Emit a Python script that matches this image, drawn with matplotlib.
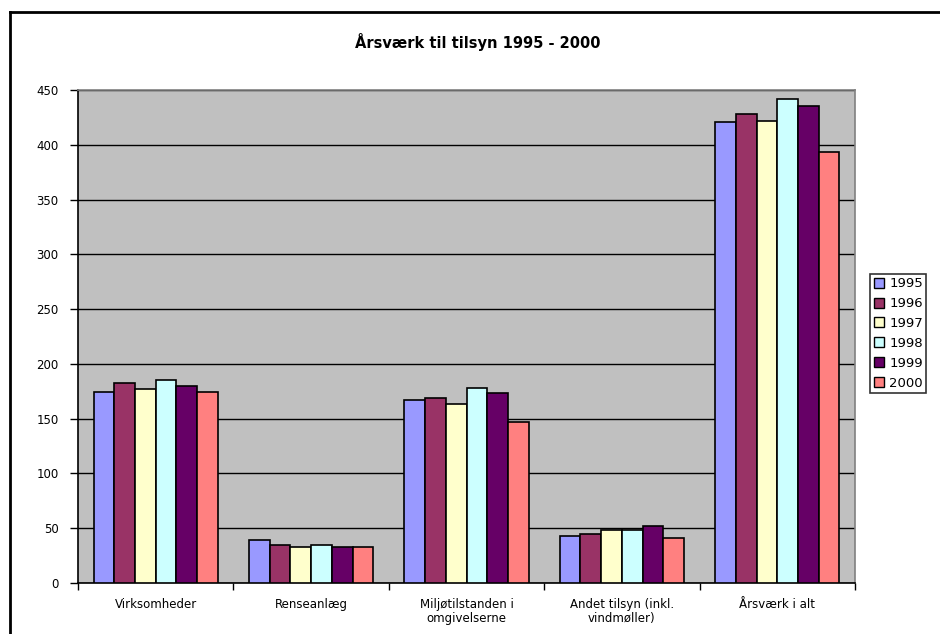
import numpy as np
import matplotlib.pyplot as plt
from matplotlib.lines import Line2D

# --- data ---
categories = ["Virksomheder", "Renseanlæg", "Miljøtilstanden i\nomgivelserne",
              "Andet tilsyn (inkl.\nvindmøller)", "Årsværk i alt"]
years = ["1995", "1996", "1997", "1998", "1999", "2000"]
v1995 = [174, 39, 167, 43, 421]
v1996 = [183, 35, 169, 45, 428]
v1997 = [177, 33, 163, 48, 422]
v1998 = [185, 35, 178, 48, 442]
v1999 = [180, 33, 173, 52, 435]
v2000 = [174, 33, 147, 41, 393]
series = [v1995, v1996, v1997, v1998, v1999, v2000]
colors = ["#9999FF", "#993366", "#FFFFCC", "#CCFFFF", "#660066", "#FF8080"]

plt.rcParams["font.family"] = ["DejaVu Sans"]

fig = plt.figure(figsize=(9.4, 6.34), dpi=100)
ax = fig.add_axes([78 / 940, 1 - 583 / 634, 777 / 940, 493 / 634])
ax.set_facecolor("#C0C0C0")

x = np.arange(len(categories))
w = 1 / 7.5  # Excel-style gap width 150%
for i, (vals, c, yr) in enumerate(zip(series, colors, years)):
    ax.bar(x + (i - 2.5) * w, vals, width=w, color=c, edgecolor="black",
           linewidth=1.2, label=yr, zorder=3)

ax.set_xlim(-0.5, len(categories) - 0.5)
ax.set_ylim(0, 450)
ax.set_yticks(np.arange(0, 451, 50))
ax.yaxis.grid(True, color="black", linewidth=1.0, zorder=0)
ax.set_axisbelow(True)

ax.set_xticks(x)
ax.set_xticklabels(categories, fontsize=8.5, linespacing=1.1)
ax.set_xticks(np.arange(-0.5, len(categories) + 0.5, 1), minor=True)
ax.tick_params(axis="x", which="major", length=0, pad=11)
ax.tick_params(axis="x", which="minor", length=5, width=1, direction="out")
ax.tick_params(axis="y", length=6, width=1, direction="out", labelsize=8.5, pad=8)

for s in ["top", "right"]:
    ax.spines[s].set_color("#808080")
    ax.spines[s].set_linewidth(1.2)
for s in ["left", "bottom"]:
    ax.spines[s].set_color("black")
    ax.spines[s].set_linewidth(1.2)

fig.text(478 / 940, 1 - 42 / 634, "Årsværk til tilsyn 1995 - 2000",
         fontsize=10.5, fontweight="bold", ha="center", va="center")

handles = [Line2D([0], [0], marker="s", linestyle="none", markersize=7,
                  markerfacecolor=c, markeredgecolor="black", markeredgewidth=1)
           for c in colors]
leg = fig.legend(handles, years, loc="upper left",
                 bbox_to_anchor=(870 / 940, 1 - 274 / 634), frameon=True,
                 fancybox=False, edgecolor="black", fontsize=9.5,
                 handlelength=0.8, handletextpad=0.4, labelspacing=0.52,
                 borderpad=0.25, borderaxespad=0)
leg.get_frame().set_linewidth(1.2)

# outer chart frame (left and top edges visible)
fig.add_artist(Line2D([10 / 940, 10 / 940], [0, 1 - 12 / 634],
                      transform=fig.transFigure, color="black", linewidth=2))
fig.add_artist(Line2D([10 / 940, 1], [1 - 12 / 634, 1 - 12 / 634],
                      transform=fig.transFigure, color="black", linewidth=2))

fig.savefig("out.png", dpi=100)
